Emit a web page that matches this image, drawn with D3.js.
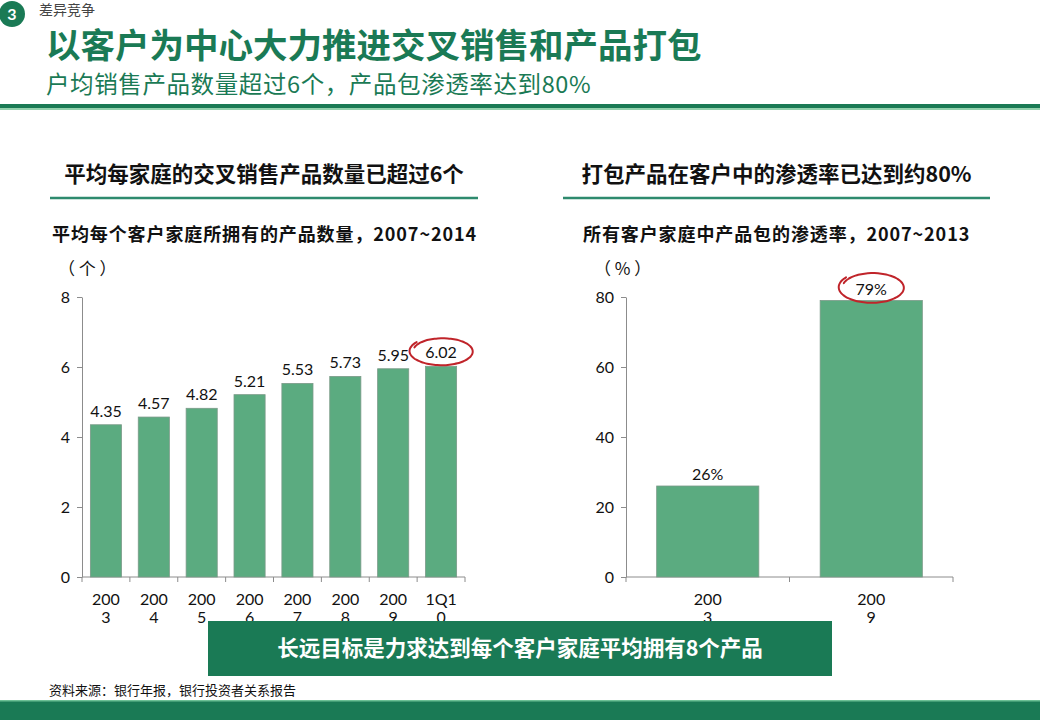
<!DOCTYPE html>
<html>
<head>
<meta charset="utf-8">
<script src="https://cdn.jsdelivr.net/npm/d3@7/dist/d3.min.js"></script>
<style>
  html, body { margin: 0; padding: 0; background: #fff; }
  svg { display: block; }
  text { font-family: "Noto Sans CJK SC", "Noto Sans", sans-serif; }
  .num { font-family: Lato, "Noto Sans CJK SC", sans-serif; }
</style>
</head>
<body>
<svg width="1040" height="720"></svg>
<script>
var width = 1040;
var height = 720;
var green = '#1a7a55';
var barFill = '#5bab80';
var axisGrey = '#8c8c8c';

// left chart: products per household
var leftCats = ['2003', '2004', '2005', '2006', '2007', '2008', '2009', '1Q10'];
var leftVals = [4.35, 4.57, 4.82, 5.21, 5.53, 5.73, 5.95, 6.02];
var leftTicks = [0, 2, 4, 6, 8];

// right chart: bundle penetration
var rightCats = ['2003', '2009'];
var rightVals = [26, 79];
var rightTicks = [0, 20, 40, 60, 80];

var svg = d3.select('svg');

// ---- header ----
svg.append('circle').attr('cx', 12).attr('cy', 14).attr('r', 13).attr('fill', green);
svg.append('text').attr('x', 12).attr('y', 20).attr('text-anchor', 'middle')
  .attr('fill', '#fff').attr('font-weight', 700).attr('font-size', 16).attr('class', 'num').text('3');
svg.append('text').attr('x', 39).attr('y', 15).attr('font-size', 14).attr('fill', '#444').text('差异竞争');
svg.append('text').attr('x', 46).attr('y', 57.5).attr('font-size', 34.5).attr('font-weight', 700)
  .attr('fill', green).text('以客户为中心大力推进交叉销售和产品打包');
svg.append('text').attr('x', 46).attr('y', 92.5).attr('font-size', 23.5).attr('letter-spacing', 0.6)
  .attr('fill', green).text('户均销售产品数量超过6个，产品包渗透率达到80%');
svg.append('rect').attr('x', 0).attr('y', 104).attr('width', width).attr('height', 4).attr('fill', green);
svg.append('rect').attr('x', 0).attr('y', 108).attr('width', width).attr('height', 2).attr('fill', '#93d1ad');

// ---- footer ----
svg.append('text').attr('x', 49).attr('y', 695).attr('font-size', 13).attr('fill', '#111')
  .text('资料来源：银行年报，银行投资者关系报告');
svg.append('rect').attr('x', 0).attr('y', 700).attr('width', width).attr('height', 20).attr('fill', green);
svg.append('rect').attr('x', 0).attr('y', 700).attr('width', width).attr('height', 1.5).attr('fill', '#6cc095');

function panel(opts) {
  var g = svg.append('g');
  // section heading + rule
  g.append('text').attr('x', (opts.ruleX0 + opts.ruleX1) / 2).attr('y', 182).attr('text-anchor', 'middle')
    .attr('font-size', 21.5).attr('font-weight', 700).attr('fill', '#111').text(opts.heading);
  g.append('line').attr('x1', opts.ruleX0).attr('x2', opts.ruleX1).attr('y1', 198).attr('y2', 198)
    .attr('stroke', '#2e8a6e').attr('stroke-width', 2.5);
  g.append('text').attr('x', opts.subX).attr('y', 241).attr('font-size', 18).attr('font-weight', 700)
    .attr('letter-spacing', 0.9).attr('fill', '#111').text(opts.sub);
  g.append('text').attr('x', opts.unitX).attr('y', 275).attr('font-size', 17).attr('fill', '#111')
    .attr('xml:space', 'preserve').text(opts.unit);

  var x = d3.scaleBand().domain(opts.cats).range([opts.x0, opts.x1])
    .paddingInner(opts.pad).paddingOuter(opts.pad / 2);
  var y = d3.scaleLinear().domain([0, d3.max(opts.ticks)]).range([577, 297]);

  // y axis
  var ya = g.append('g').attr('transform', 'translate(' + opts.x0 + ',0)')
    .call(d3.axisLeft(y).tickValues(opts.ticks).tickSizeOuter(0).tickSizeInner(5).tickPadding(7));
  ya.select('.domain').attr('stroke', axisGrey);
  ya.selectAll('.tick line').attr('stroke', axisGrey);
  ya.selectAll('.tick text').attr('class', 'num').attr('font-size', 16).attr('fill', '#111');

  // x axis: baseline + ticks at category boundaries
  g.append('line').attr('x1', opts.x0).attr('x2', opts.x1).attr('y1', y(0)).attr('y2', y(0))
    .attr('stroke', axisGrey);
  var bounds = opts.cats.map(function (d) { return x(d) - x.step() * opts.pad / 2; }).concat([opts.x1]);
  g.selectAll('line.xt').data(bounds).enter().append('line').attr('class', 'xt')
    .attr('x1', function (d) { return d; }).attr('x2', function (d) { return d; })
    .attr('y1', y(0)).attr('y2', y(0) + 5).attr('stroke', axisGrey);

  // bars
  g.selectAll('rect.bar').data(opts.vals).enter().append('rect').attr('class', 'bar')
    .attr('x', function (d, i) { return x(opts.cats[i]); })
    .attr('width', x.bandwidth())
    .attr('y', function (d) { return y(d); })
    .attr('height', function (d) { return y(0) - y(d); })
    .attr('fill', barFill).attr('stroke', '#7b9a88').attr('stroke-width', 0.8);

  // value labels
  g.selectAll('text.val').data(opts.vals).enter().append('text').attr('class', 'num')
    .attr('x', function (d, i) { return x(opts.cats[i]) + x.bandwidth() / 2; })
    .attr('y', function (d) { return y(d) - opts.labelGap; })
    .attr('text-anchor', 'middle').attr('font-size', 16).attr('fill', '#111')
    .text(function (d) { return opts.fmt(d); });

  // category labels, wrapped like the original
  var cl = g.selectAll('text.cat').data(opts.cats).enter().append('text').attr('class', 'num')
    .attr('text-anchor', 'middle').attr('font-size', 16).attr('fill', '#111');
  cl.append('tspan').attr('x', function (d) { return x(d) + x.bandwidth() / 2; }).attr('y', 605)
    .text(function (d) { return d.slice(0, 3); });
  cl.append('tspan').attr('x', function (d) { return x(d) + x.bandwidth() / 2; }).attr('y', 623)
    .text(function (d) { return d.slice(3); });

  // hand-drawn red ring around the last value
  var last = opts.cats.length - 1;
  var cx = x(opts.cats[last]) + x.bandwidth() / 2 + 1;
  var cy = y(opts.vals[last]) - opts.labelGap - 7;
  var ring = [];
  for (var k = 0; k <= 60; k++) {
    var t = Math.PI * 0.78 + k / 60 * Math.PI * 2.12;
    var grow = 1 - 0.12 * (k / 60);
    ring.push([cx + Math.cos(t) * opts.rx * grow, cy - Math.sin(t) * opts.ry * grow]);
  }
  g.append('path').attr('d', d3.line().curve(d3.curveBasis)(ring))
    .attr('fill', 'none').attr('stroke', '#c0242a').attr('stroke-width', 2).attr('stroke-linecap', 'round');
}

panel({
  heading: '平均每家庭的交叉销售产品数量已超过6个', ruleX0: 50, ruleX1: 478,
  sub: '平均每个客户家庭所拥有的产品数量，2007~2014', subX: 52,
  unit: '（ 个 ）', unitX: 58,
  cats: leftCats, vals: leftVals, ticks: leftTicks,
  x0: 82, x1: 465, pad: 0.35, labelGap: 8, rx: 33, ry: 14.5,
  fmt: function (d) { return d.toFixed(2); }
});

panel({
  heading: '打包产品在客户中的渗透率已达到约80%', ruleX0: 563, ruleX1: 990,
  sub: '所有客户家庭中产品包的渗透率，2007~2013', subX: 583,
  unit: '（ % ）', unitX: 594,
  cats: rightCats, vals: rightVals, ticks: rightTicks,
  x0: 626, x1: 953, pad: 0.375, labelGap: 6, rx: 34, ry: 16,
  fmt: function (d) { return d + '%'; }
});

// ---- callout box ----
svg.append('rect').attr('x', 208).attr('y', 621).attr('width', 624).attr('height', 55).attr('fill', green);
svg.append('text').attr('x', 520).attr('y', 656).attr('text-anchor', 'middle').attr('font-size', 21.5)
  .attr('font-weight', 700).attr('fill', '#fff').text('长远目标是力求达到每个客户家庭平均拥有8个产品');
</script>
</body>
</html>
